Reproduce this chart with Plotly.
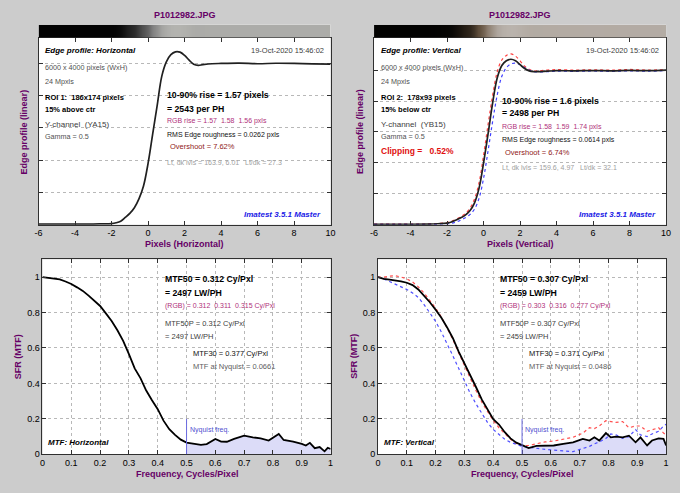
import plotly.graph_objects as go

W, H = 680, 493
FONT = "Liberation Sans, Arial, sans-serif"
PURPLE = "#660066"

# ---------------- data ----------------
file_name = "P1012982.JPG"
edge_ticks = [-6, -4, -2, 0, 2, 4, 6, 8, 10]
edge_tick_labels = ["-6", "-4", "-2", "0", "2", "4", "6", "8", "10"]

# Edge profile, horizontal (pixels vs normalized level)
edge_x = [-6, -4, -3, -2.5, -2, -1.75, -1.5, -1.25, -1.0, -0.75, -0.5, -0.25, 0, 0.25, 0.5,
          0.75, 1.0, 1.25, 1.5, 1.75, 2.0, 2.25, 2.5, 2.75, 3.0, 3.5, 4, 5, 6, 7, 8, 9, 10]
edge_h = [0.003, 0.003, 0.004, 0.005, 0.007, 0.012, 0.022, 0.045, 0.07, 0.105, 0.16, 0.24, 0.38,
          0.56, 0.74, 0.92, 1.01, 1.055, 1.072, 1.07, 1.05, 1.02, 0.995, 0.988, 0.992, 0.998,
          1.0, 1.002, 0.998, 1.001, 1.0, 0.997, 0.995]
# Edge profile, vertical: Y (black), R and B channels
edge_v = [0.003, 0.003, 0.004, 0.006, 0.01, 0.018, 0.03, 0.045, 0.062, 0.09, 0.14, 0.235, 0.40,
          0.59, 0.79, 0.95, 1.03, 1.06, 1.07, 1.06, 1.035, 1.01, 0.995, 0.99, 0.99, 0.993, 0.996,
          0.995, 0.997, 0.995, 0.998, 0.996, 1.0]
edge_v_r = [0.004, 0.004, 0.005, 0.008, 0.013, 0.022, 0.035, 0.052, 0.072, 0.105, 0.165, 0.27,
            0.45, 0.65, 0.84, 0.99, 1.065, 1.095, 1.105, 1.09, 1.06, 1.025, 1.005, 0.995, 0.995,
            1.0, 1.003, 1.0, 1.002, 1.0, 1.004, 1.0, 1.003]
edge_v_b = [0.002, 0.002, 0.003, 0.004, 0.006, 0.01, 0.018, 0.03, 0.045, 0.065, 0.10, 0.17, 0.30,
            0.48, 0.67, 0.84, 0.96, 1.015, 1.04, 1.045, 1.035, 1.015, 1.0, 0.99, 0.988, 0.99,
            0.993, 0.992, 0.994, 0.992, 0.995, 0.993, 0.997]

# MTF horizontal
mtf_f_h = [0, 0.02, 0.04, 0.06, 0.08, 0.10, 0.12, 0.14, 0.16, 0.18, 0.20, 0.22, 0.24, 0.26, 0.28,
           0.30, 0.32, 0.34, 0.36, 0.38, 0.40, 0.42, 0.44, 0.46, 0.48, 0.50, 0.53, 0.55, 0.57,
           0.60, 0.62, 0.64, 0.665, 0.70, 0.73, 0.757, 0.785, 0.80, 0.82, 0.837, 0.87, 0.90,
           0.914, 0.928, 0.945, 0.962, 0.979, 0.99, 1.0]
mtf_h = [1.0, 0.997, 0.993, 0.987, 0.975, 0.961, 0.942, 0.922, 0.895, 0.866, 0.837, 0.795, 0.752,
         0.70, 0.64, 0.565, 0.485, 0.43, 0.36, 0.305, 0.255, 0.19, 0.142, 0.11, 0.083, 0.066,
         0.058, 0.054, 0.058, 0.087, 0.072, 0.071, 0.087, 0.105, 0.096, 0.09, 0.078, 0.095,
         0.115, 0.081, 0.072, 0.059, 0.05, 0.065, 0.035, 0.041, 0.017, 0.037, 0.03]

# MTF vertical: Y (black), R, B
mtf_f_v = [0, 0.02, 0.04, 0.06, 0.08, 0.10, 0.12, 0.14, 0.16, 0.18, 0.20, 0.22, 0.24, 0.26, 0.28,
           0.30, 0.32, 0.34, 0.36, 0.38, 0.40, 0.42, 0.44, 0.46, 0.48, 0.50, 0.523, 0.55, 0.58,
           0.61, 0.643, 0.677, 0.711, 0.734, 0.751, 0.768, 0.791, 0.808, 0.826, 0.849, 0.871,
           0.894, 0.911, 0.934, 0.951, 0.974, 0.991, 1.0]
mtf_v = [1.0, 0.99, 0.985, 0.981, 0.976, 0.968, 0.955, 0.93, 0.897, 0.858, 0.816, 0.77, 0.716,
         0.655, 0.58, 0.515, 0.447, 0.38, 0.31, 0.254, 0.198, 0.168, 0.125, 0.09, 0.066, 0.052,
         0.035, 0.048, 0.05, 0.05, 0.059, 0.068, 0.087, 0.078, 0.096, 0.078, 0.12, 0.096, 0.10,
         0.096, 0.105, 0.068, 0.096, 0.05, 0.078, 0.09, 0.087, 0.05]
mtf_v_r = [1.0, 1.0, 1.005, 1.008, 1.0, 0.99, 0.972, 0.945, 0.91, 0.87, 0.825, 0.775, 0.715, 0.648,
           0.572, 0.50, 0.43, 0.36, 0.295, 0.24, 0.19, 0.15, 0.115, 0.085, 0.062, 0.05, 0.05,
           0.06, 0.07, 0.075, 0.085, 0.096, 0.12, 0.15, 0.145, 0.16, 0.19, 0.185, 0.18, 0.185,
           0.15, 0.16, 0.16, 0.13, 0.14, 0.15, 0.12, 0.11]
mtf_v_b = [1.0, 0.99, 0.975, 0.96, 0.945, 0.93, 0.91, 0.885, 0.845, 0.80, 0.75, 0.69, 0.625,
           0.555, 0.485, 0.415, 0.345, 0.285, 0.23, 0.18, 0.14, 0.11, 0.085, 0.068, 0.055, 0.045,
           0.04, 0.033, 0.028, 0.024, 0.018, 0.015, 0.033, 0.045, 0.059, 0.07, 0.09, 0.115, 0.11,
           0.09, 0.10, 0.14, 0.11, 0.10, 0.115, 0.13, 0.16, 0.17]
nyquist = 0.5

# ---------------- helpers ----------------
def X(p):
    return p / W


def Y(p):
    return 1 - p / H


annotations = []


def txt(x, y, s, size=7.5, color="#000000", anchor="left", angle=0):
    annotations.append(dict(x=X(x), y=Y(y), xref="paper", yref="paper", text=s,
                            showarrow=False, xanchor=anchor, yanchor="middle",
                            textangle=angle, borderpad=0,
                            font=dict(size=size, color=color, family=FONT)))


fig = go.Figure()

# gradient bars (edge image strips)
gray_scale = [[0, "rgb(0,0,0)"], [0.05, "rgb(30,30,30)"], [0.2, "rgb(80,80,80)"],
              [0.5, "rgb(128,128,128)"], [1, "rgb(182,182,178)"]]
warm_scale = [[0, "rgb(0,0,0)"], [0.05, "rgb(35,28,20)"], [0.2, "rgb(95,78,60)"],
              [0.5, "rgb(140,125,110)"], [1, "rgb(188,182,176)"]]
fig.add_trace(go.Heatmap(x=edge_x, y=[0, 1], z=[edge_h, edge_h], colorscale=gray_scale,
                         zmin=0, zmax=1.1, showscale=False, zsmooth="best",
                         xaxis="x5", yaxis="y5", hoverinfo="skip"))
fig.add_trace(go.Heatmap(x=edge_x, y=[0, 1], z=[edge_v, edge_v], colorscale=warm_scale,
                         zmin=0, zmax=1.1, showscale=False, zsmooth="best",
                         xaxis="x6", yaxis="y6", hoverinfo="skip"))

# edge profiles
fig.add_trace(go.Scatter(x=edge_x, y=edge_h, mode="lines", line=dict(color="#202020", width=1.7, shape="spline"),
                         xaxis="x", yaxis="y"))
fig.add_trace(go.Scatter(x=edge_x, y=edge_v_r, mode="lines", line=dict(color="#ff4040", width=1.2, dash="dot", shape="spline"),
                         xaxis="x2", yaxis="y2"))
fig.add_trace(go.Scatter(x=edge_x, y=edge_v_b, mode="lines", line=dict(color="#4040ff", width=1.2, dash="dot", shape="spline"),
                         xaxis="x2", yaxis="y2"))
fig.add_trace(go.Scatter(x=edge_x, y=edge_v, mode="lines", line=dict(color="#202020", width=1.7, shape="spline"),
                         xaxis="x2", yaxis="y2"))

# MTF horizontal
fh = [f for f in mtf_f_h if f >= nyquist]
vh = [v for f, v in zip(mtf_f_h, mtf_h) if f >= nyquist]
fig.add_trace(go.Scatter(x=fh, y=vh, mode="lines", fill="tozeroy", fillcolor="#dcdcf8",
                         line=dict(width=0), xaxis="x3", yaxis="y3"))
fig.add_trace(go.Scatter(x=mtf_f_h, y=mtf_h, mode="lines", line=dict(color="#000000", width=1.8),
                         xaxis="x3", yaxis="y3"))

# MTF vertical
fv = [f for f in mtf_f_v if f >= nyquist]
vv = [v for f, v in zip(mtf_f_v, mtf_v) if f >= nyquist]
fig.add_trace(go.Scatter(x=fv, y=vv, mode="lines", fill="tozeroy", fillcolor="#dcdcf8",
                         line=dict(width=0), xaxis="x4", yaxis="y4"))
fig.add_trace(go.Scatter(x=mtf_f_v, y=mtf_v_r, mode="lines", line=dict(color="#ff5050", width=1.2, dash="dot"),
                         xaxis="x4", yaxis="y4"))
fig.add_trace(go.Scatter(x=mtf_f_v, y=mtf_v_b, mode="lines", line=dict(color="#5050ff", width=1.2, dash="dot"),
                         xaxis="x4", yaxis="y4"))
fig.add_trace(go.Scatter(x=mtf_f_v, y=mtf_v, mode="lines", line=dict(color="#000000", width=1.8),
                         xaxis="x4", yaxis="y4"))

# Nyquist lines
shapes = []
for xa, ya in (("x3", "y3"), ("x4", "y4")):
    shapes.append(dict(type="line", xref=xa, yref=ya, x0=nyquist, x1=nyquist, y0=0, y1=0.2,
                       line=dict(color="#6a6ae0", width=1)))

# ---------------- axes ----------------
tickfont = dict(size=9, color="#000000", family=FONT)
base = dict(showline=True, linecolor="#303030", linewidth=1, mirror="allticks", ticks="inside",
            ticklen=4, tickcolor="#303030", tickfont=tickfont, zeroline=False)
grid = dict(showgrid=True, gridcolor="#b8b8b8", griddash="dot", gridwidth=1)

layout_axes = {}
top_y_dom = [Y(227), Y(38)]
bar_y_dom = [Y(38), Y(25)]
bot_y_dom = [Y(459), Y(262)]
for i, (x0, x1, yr) in enumerate(((35, 331, 1.16), (375, 671, 1.21)), start=1):
    xn = "xaxis" if i == 1 else "xaxis2"
    yn = "yaxis" if i == 1 else "yaxis2"
    layout_axes[xn] = dict(base, domain=[X(x0), X(x1)], range=[-6, 10], tickvals=edge_ticks,
                           ticktext=edge_tick_labels, showgrid=False, anchor="y" if i == 1 else "y2")
    layout_axes[yn] = dict(base, **grid, domain=top_y_dom, range=[0, yr],
                           tickvals=[0, 0.2, 0.4, 0.6, 0.8, 1.0], showticklabels=False,
                           anchor="x" if i == 1 else "x2")
    bx = "xaxis5" if i == 1 else "xaxis6"
    by = "yaxis5" if i == 1 else "yaxis6"
    layout_axes[bx] = dict(domain=[X(x0), X(x1)], range=[-6, 10], visible=False,
                           anchor="y5" if i == 1 else "y6")
    layout_axes[by] = dict(domain=bar_y_dom, range=[0, 1], visible=False,
                           anchor="x5" if i == 1 else "x6")

for i, (x0, x1) in ((3, (39, 331)), (4, (379, 671))):
    layout_axes["xaxis%d" % i] = dict(base, **grid, domain=[X(x0), X(x1)], range=[0, 1],
                                      dtick=0.1, tick0=0, anchor="y%d" % i)
    layout_axes["yaxis%d" % i] = dict(base, **grid, domain=bot_y_dom, range=[0, 1.1],
                                      tickvals=[0, 0.2, 0.4, 0.6, 0.8, 1.0], anchor="x%d" % i)

# ---------------- texts ----------------
for off, dirn in ((0, "Horizontal"), (340, "Vertical")):
    txt(183 + off, 15, "<b>%s</b>" % file_name, 9, PURPLE, "center")
    txt(41 + off, 51, "<b><i>Edge profile: %s</i></b>" % dirn, 8)
    txt(325 + off, 51, "19-Oct-2020 15:46:02", 7.5, "#404040", "right")
    txt(41 + off, 68, "6000 x 4000 pixels (WxH)", 7.2, "#505050")
    txt(41 + off, 82, "24 Mpxls", 7.2, "#505050")
    txt(41 + off, 126, "Y-channel  (Y%s15)" % ("A" if off == 0 else "B"), 8, "#404040")
    txt(41 + off, 138, "Gamma = 0.5", 7.2, "#505050")
    txt(322 + off, 217, "<b><i>Imatest 3.5.1 Master</i></b>", 8, "#1a1ae6", "right")
    txt(20 + off, 133, "<b>Edge profile (linear)</b>", 9, PURPLE, "center", -90)
    txt(183 + off, 246, "<b>Pixels (%s)</b>" % dirn, 9, PURPLE, "center")
    txt(15 + off, 360, "<b>SFR (MTF)</b>", 9, PURPLE, "center", -90)
    txt(185 + off, 479, "<b>Frequency, Cycles/Pixel</b>", 9, PURPLE, "center")
    txt(44 + off, 447, "<b><i>MTF: %s</i></b>" % dirn, 8)
    txt(187 + off, 434, "Nyquist freq.", 7, "#5050d0")

# left edge panel
txt(41, 99, "<b>ROI 1:  186x174 pixels</b>", 7.5)
txt(41, 111, "<b>15% above ctr</b>", 7.5)
txt(164, 96, "<b>10-90% rise = 1.57 pixels</b>", 8.7)
txt(164, 110, "<b>= 2543 per PH</b>", 8.7)
txt(164, 122, "RGB rise = 1.57  1.58  1.56 pxls", 7, "#b0307a")
txt(164, 136, "RMS Edge roughness = 0.0262 pxls", 7, "#101010")
txt(167, 148, "Overshoot = 7.62%", 7.5, "#902020")
txt(164, 164, "Lt, dk lvls = 163.9, 6.01   Lt/dk = 27.3", 7, "#a0a0a0")

# right edge panel
txt(381, 99, "<b>ROI 2:  178x93 pixels</b>", 7.5)
txt(381, 111, "<b>15% below ctr</b>", 7.5)
txt(381, 153, "<b>Clipping =   0.52%</b>", 8.5, "#e01010")
txt(504, 102, "<b>10-90% rise = 1.6 pixels</b>", 8.7)
txt(504, 114, "<b>= 2498 per PH</b>", 8.7)
txt(504, 128, "RGB rise = 1.58  1.59  1.74 pxls", 7, "#b0307a")
txt(504, 141, "RMS Edge roughness = 0.0614 pxls", 7, "#101010")
txt(507, 154, "Overshoot = 6.74%", 7.5, "#902020")
txt(504, 169, "Lt, dk lvls = 159.6, 4.97   Lt/dk = 32.1", 7, "#a0a0a0")

# MTF panels
mtf_text = [
    (0, "0.312", "2497", "0.312  0.311  0.315", "0.312", "2497", "0.377", "0.0661"),
    (340, "0.307", "2459", "0.303  0.316  0.277", "0.307", "2459", "0.371", "0.0486"),
]
for off, m50, lw, rgb, m50p, lwp, m30, nyq in mtf_text:
    txt(162 + off, 282, "<b>MTF50 = %s Cy/Pxl</b>" % m50, 8.7)
    txt(162 + off, 296, "<b>= %s LW/PH</b>" % lw, 8.7)
    txt(162 + off, 309, "(RGB) = %s Cy/Pxl" % rgb, 7, "#b0307a")
    txt(162 + off, 327, "MTF50P = %s Cy/Pxl" % m50p, 7.5, "#404040")
    txt(162 + off, 340, "= %s LW/PH" % lwp, 7.5, "#404040")
    txt(191 + off, 357, "MTF30 = %s Cy/Pxl" % m30, 7.5, "#101010")
    txt(191 + off, 370, "MTF at Nyquist = %s" % nyq, 7.5, "#606060")

fig.update_layout(width=W, height=H, margin=dict(l=0, r=0, t=0, b=0),
                  paper_bgcolor="#cccccc", plot_bgcolor="white", showlegend=False,
                  annotations=annotations, shapes=shapes, font=dict(family=FONT),
                  **layout_axes)

fig.write_html("out.html", config={"displayModeBar": False},
               post_script="document.body.style.margin='0';")
